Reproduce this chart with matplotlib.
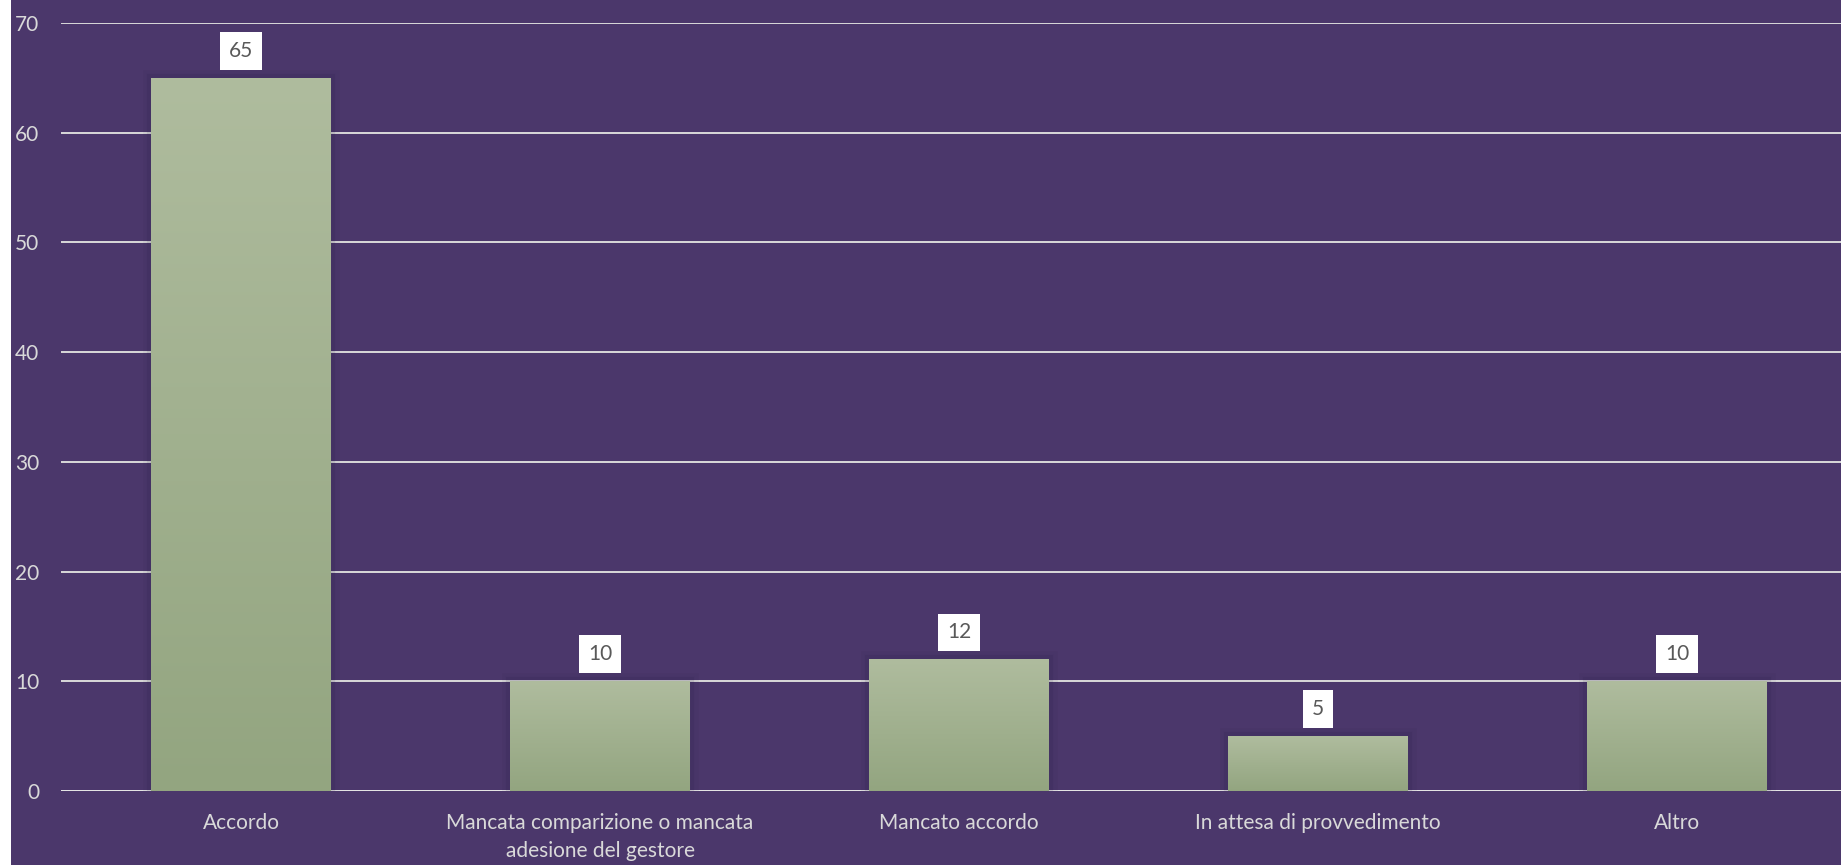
import matplotlib.pyplot as plt
import numpy as np
from matplotlib.patches import Rectangle
import matplotlib.patheffects as pe

# 数据
categories = [
    "Accordo",
    "Mancata comparizione o mancata\nadesione del gestore",
    "Mancato accordo",
    "In attesa di provvedimento",
    "Altro",
]
values = [65, 10, 12, 5, 10]
y_ticks = [0, 10, 20, 30, 40, 50, 60, 70]

bg_color = "#4b376b"
text_color = "#d9d9d9"
bar_top = np.array([175, 188, 158]) / 255
bar_bottom = np.array([147, 165, 128]) / 255

plt.rcParams["font.family"] = ["Lato", "DejaVu Sans"]

fig = plt.figure(figsize=(18.41, 8.65), dpi=100)
fig.patch.set_facecolor("white")
# purple background, small white strip on the left
fig.patches.append(Rectangle((11 / 1841, 0), 1, 1, transform=fig.transFigure,
                             facecolor=bg_color, edgecolor="none", zorder=-10))

ax = fig.add_axes([61.5 / 1841, 74 / 865, 1795 / 1841, 768 / 865])
ax.set_facecolor("none")

x = np.arange(len(categories))
bars = ax.bar(x, values, width=0.5, color=bar_bottom, zorder=3,
              path_effects=[pe.withStroke(linewidth=12, foreground="#20103a", alpha=0.05),
                            pe.withStroke(linewidth=6, foreground="#20103a", alpha=0.10),
                            pe.Normal()])

# gradient fill for each bar
grad = np.linspace(0, 1, 256)[:, None, None]
grad_img = bar_top * (1 - grad) + bar_bottom * grad
for b in bars:
    im = ax.imshow(grad_img, extent=[b.get_x(), b.get_x() + b.get_width(), 0, b.get_height()],
                   aspect="auto", zorder=4, origin="upper")
    im.set_clip_path(b)

# value labels in white boxes
for xi, v in zip(x, values):
    ax.annotate(str(v), (xi, v), xytext=(0, 19.5), textcoords="offset points",
                ha="center", va="center", fontsize=15, color="#595959", zorder=6,
                bbox=dict(boxstyle="square,pad=0.42", facecolor="white", edgecolor="none"))

ax.set_xlim(-0.5, len(categories) - 0.5)
ax.set_ylim(0, 70)
ax.set_yticks(y_ticks)
ax.set_xticks(x)
ax.set_xticklabels(categories, linespacing=1.5)
ax.yaxis.grid(True, color=text_color, linewidth=1.4, zorder=0)
ax.set_axisbelow(True)
for s in ax.spines.values():
    s.set_visible(False)
ax.axhline(0, color="#e6e6e6", linewidth=2, zorder=2)
ax.tick_params(axis="both", length=0, colors=text_color, labelsize=15)
ax.tick_params(axis="y", pad=16)
ax.tick_params(axis="x", pad=16)

fig.savefig("out.png", dpi=100, facecolor=fig.get_facecolor())
